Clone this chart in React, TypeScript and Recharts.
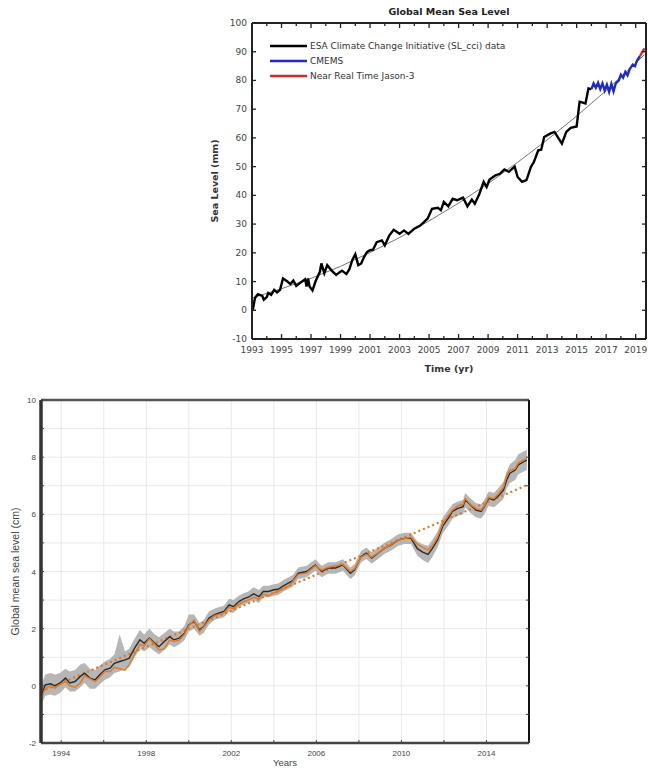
import React from 'react'
import { ComposedChart, Line, Area, XAxis, YAxis, CartesianGrid, Legend } from 'recharts'

// ---------- upper panel: Global Mean Sea Level (mm) ----------
const esaYears = [
  1993.05, 1993.2, 1993.4, 1993.7, 1993.8, 1994.0, 1994.1, 1994.3, 1994.5, 1994.7, 1994.9,
  1995.1, 1995.4, 1995.6, 1995.8, 1996.0, 1996.3, 1996.6, 1996.7, 1996.8, 1996.9,
  1997.1, 1997.3, 1997.6, 1997.7, 1997.9, 1998.1, 1998.4, 1998.7, 1998.9,
  1999.1, 1999.4, 1999.6, 1999.8, 2000.0, 2000.2, 2000.4, 2000.6, 2000.8,
  2001.0, 2001.2, 2001.45, 2001.8, 2002.0, 2002.3, 2002.6, 2003.0, 2003.3, 2003.6,
  2004.0, 2004.4, 2004.9, 2005.2, 2005.6, 2005.8, 2006.0, 2006.3, 2006.6, 2006.9,
  2007.3, 2007.6, 2007.9, 2008.1, 2008.4, 2008.7, 2008.9, 2009.1, 2009.5, 2009.8,
  2010.1, 2010.4, 2010.8, 2011.0, 2011.3, 2011.6, 2011.9, 2012.1, 2012.4, 2012.6,
  2012.8, 2013.2, 2013.5, 2014.0, 2014.3, 2014.6, 2015.0, 2015.2, 2015.6, 2015.8, 2016.0,
]
const esaLevel = [
  0, 4.3, 5.6, 5.0, 3.7, 4.6, 6.0, 5.4, 7.1, 6.2, 7.1,
  11.1, 10.0, 9.1, 10.3, 8.5, 9.7, 10.8, 8.3, 11.1, 8.3,
  6.9, 10.0, 13.4, 16.3, 12.9, 15.7, 13.8, 12.3, 13.1,
  13.8, 12.6, 14.3, 17.5, 19.5, 15.7, 16.3, 18.6, 20.3,
  20.9, 21.1, 23.7, 24.3, 22.6, 26.0, 28.0, 26.6, 27.8, 26.6,
  28.4, 29.5, 31.9, 35.3, 35.7, 34.8, 37.7, 36.2, 38.8, 38.3,
  39.2, 36.2, 38.5, 37.1, 40.4, 44.7, 42.9, 45.5, 47.0, 47.5,
  49.0, 48.2, 50.0, 46.4, 44.7, 45.3, 49.9, 51.6, 55.7, 55.9,
  60.3, 61.5, 62.1, 58.0, 62.1, 63.5, 64.0, 72.6, 72.0, 77.2, 77.0,
]
const cmemsYears = [
  2016.0, 2016.15, 2016.3, 2016.45, 2016.6, 2016.75, 2016.9, 2017.05, 2017.2, 2017.35,
  2017.5, 2017.65, 2017.85, 2018.0, 2018.15, 2018.3, 2018.45, 2018.6, 2018.8, 2018.95,
  2019.1, 2019.3,
]
const cmemsLevel = [
  77.0, 79.0, 77.5, 79.2, 77.0, 79.0, 76.5, 78.5, 76.0, 78.8,
  76.2, 79.0, 80.0, 82.0, 81.0, 83.0, 81.8, 84.0, 85.5, 85.0,
  87.0, 88.5,
]
const jasonYears = [2019.3, 2019.45, 2019.6]
const jasonLevel = [88.5, 90.0, 91.2]
const fitYears = [1993, 1995, 1997, 1999, 2001, 2003, 2005, 2007, 2009, 2011, 2013, 2015, 2017, 2019, 2019.6]
const fitLevel = [4.3, 7.5, 11.1, 15.3, 20.1, 25.3, 31.1, 37.3, 44.1, 51.5, 59.3, 67.6, 76.5, 86.0, 89.0]
const upperYTicks = [-10, 0, 10, 20, 30, 40, 50, 60, 70, 80, 90, 100]
const upperXTicks = [
  1993, 1994, 1995, 1996, 1997, 1998, 1999, 2000, 2001, 2002, 2003, 2004, 2005, 2006,
  2007, 2008, 2009, 2010, 2011, 2012, 2013, 2014, 2015, 2016, 2017, 2018, 2019,
]
const upperSeriesNames = ['ESA Climate Change Initiative (SL_cci) data', 'CMEMS', 'Near Real Time Jason-3']

// ---------- lower panel: Global mean sea level (cm) ----------
const gmslYears = [
  1993.1, 1993.25, 1993.5, 1993.7, 1993.95, 1994.2, 1994.4, 1994.65, 1994.9, 1995.1,
  1995.35, 1995.6, 1995.8, 1996.05, 1996.3, 1996.5, 1996.75, 1997.0, 1997.2, 1997.45,
  1997.7, 1997.9, 1998.15, 1998.4, 1998.6, 1998.85, 1999.1, 1999.3, 1999.55, 1999.8,
  2000.0, 2000.25, 2000.5, 2000.7, 2000.95, 2001.2, 2001.4, 2001.65, 2001.9, 2002.1,
  2002.35, 2002.6, 2002.8, 2003.05, 2003.3, 2003.5, 2003.75, 2004.0, 2004.2, 2004.45,
  2004.7, 2004.9, 2005.15, 2005.55, 2005.95, 2006.25, 2006.55, 2006.9, 2007.25, 2007.6,
  2007.8, 2008.1, 2008.35, 2008.6, 2008.9, 2009.2, 2009.5, 2009.85, 2010.15, 2010.45,
  2010.75, 2011.0, 2011.25, 2011.45, 2011.7, 2011.95, 2012.2, 2012.4, 2012.65, 2012.9,
  2013.0, 2013.25, 2013.5, 2013.75, 2013.9, 2014.1, 2014.35, 2014.6, 2014.8, 2014.95,
  2015.1, 2015.35, 2015.5, 2015.75, 2015.9,
]
const gmslMean = [
  -0.26, 0.03, 0.07, 0.0, 0.1, 0.27, 0.1, 0.15, 0.33, 0.44,
  0.27, 0.21, 0.38, 0.56, 0.62, 0.79, 0.85, 0.91, 0.97, 1.32,
  1.61, 1.49, 1.67, 1.49, 1.37, 1.55, 1.72, 1.61, 1.67, 1.84,
  2.13, 2.25, 1.96, 2.07, 2.37, 2.48, 2.54, 2.6, 2.83, 2.77,
  2.95, 3.05, 3.1, 3.22, 3.12, 3.3, 3.3, 3.36, 3.38, 3.5,
  3.6, 3.68, 3.94, 4.0, 4.23, 4.0, 4.12, 4.12, 4.23, 3.94,
  4.06, 4.52, 4.64, 4.47, 4.64, 4.81, 4.93, 5.1, 5.16, 5.16,
  4.8, 4.68, 4.6, 4.8, 5.1, 5.6, 5.86, 6.1, 6.21, 6.27,
  6.5, 6.33, 6.15, 6.1, 6.27, 6.56, 6.5, 6.68, 6.85, 7.2,
  7.44, 7.55, 7.73, 7.84, 7.9,
]
const gmslOrange = [
  -0.35, -0.1, 0.0, -0.08, 0.05, 0.15, 0.0, -0.05, 0.1, 0.35,
  0.25, 0.15, 0.3, 0.5, 0.5, 0.65, 0.6, 0.55, 0.75, 1.1,
  1.45, 1.4, 1.65, 1.45, 1.25, 1.3, 1.6, 1.55, 1.6, 1.8,
  2.1, 2.3, 1.9, 2.05, 2.3, 2.45, 2.5, 2.55, 2.75, 2.7,
  2.85, 2.95, 3.0, 3.1, 3.05, 3.2, 3.15, 3.25, 3.3, 3.4,
  3.5, 3.65, 3.9, 3.95, 4.2, 4.05, 4.15, 4.2, 4.25, 4.0,
  4.1, 4.5, 4.6, 4.5, 4.65, 4.8, 4.95, 5.1, 5.15, 5.2,
  4.95, 4.85, 4.75, 4.9, 5.2, 5.7, 5.95, 6.15, 6.3, 6.35,
  6.55, 6.35, 6.2, 6.15, 6.3, 6.6, 6.55, 6.75, 6.95, 7.35,
  7.55, 7.6, 7.8, 7.9, 7.95,
]
const gmslLow = [
  -0.6, -0.35, -0.3, -0.35, -0.25, -0.05, -0.2, -0.2, -0.05, 0.1,
  -0.1, -0.1, 0.05, 0.2, 0.3, 0.45, 0.5, 0.6, 0.65, 1.0,
  1.3, 1.2, 1.35, 1.2, 1.1, 1.25, 1.45, 1.35, 1.45, 1.6,
  1.9, 2.0, 1.75, 1.85, 2.15, 2.3, 2.35, 2.4, 2.6, 2.55,
  2.75, 2.85, 2.9, 3.0, 2.9, 3.1, 3.1, 3.15, 3.18, 3.3,
  3.4, 3.48, 3.74, 3.8, 4.03, 3.8, 3.92, 3.92, 4.03, 3.74,
  3.86, 4.32, 4.44, 4.27, 4.44, 4.61, 4.73, 4.9, 4.96, 4.96,
  4.55, 4.4, 4.3, 4.5, 4.85, 5.35, 5.6, 5.85, 5.95, 6.0,
  6.25, 6.05, 5.9, 5.85, 6.0, 6.3, 6.25, 6.4, 6.55, 6.9,
  7.1, 7.2, 7.4, 7.5, 7.55,
]
const gmslHigh = [
  0.1, 0.4, 0.45, 0.4, 0.45, 0.6, 0.5, 0.55, 0.75, 0.8,
  0.6, 0.55, 0.7, 0.85, 0.95, 1.1, 1.8, 1.2, 1.3, 1.65,
  1.95, 1.8, 2.0, 1.8, 1.7, 1.85, 2.0, 1.9, 1.9, 2.1,
  2.5, 2.5, 2.2, 2.3, 2.6, 2.7, 2.75, 2.8, 3.05, 3.0,
  3.15, 3.25, 3.3, 3.45, 3.35, 3.5, 3.5, 3.55, 3.58, 3.7,
  3.8, 3.88, 4.14, 4.2, 4.43, 4.2, 4.32, 4.32, 4.43, 4.14,
  4.26, 4.72, 4.84, 4.67, 4.84, 5.01, 5.13, 5.3, 5.36, 5.36,
  5.05, 4.95, 4.9, 5.1, 5.4, 5.9, 6.15, 6.35, 6.45, 6.5,
  6.75, 6.55, 6.4, 6.35, 6.5, 6.8, 6.75, 6.95, 7.15, 7.5,
  7.75, 7.9, 8.1, 8.2, 8.25,
]
const gmslFitYears = [1993.05, 2016]
const gmslFit = [-0.2, 7.05]
const lowerYTicks = [-2, -1, 0, 1, 2, 3, 4, 5, 6, 7, 8, 9, 10]
const lowerXTicks = [1994, 1996, 1998, 2000, 2002, 2004, 2006, 2008, 2010, 2012, 2014, 2016]
const lowerXLabels = [1994, 1998, 2002, 2006, 2010, 2014]

const zip = (xs: number[], ys: number[]) => xs.map((t, i) => ({ t, v: ys[i] }))
const esaData = zip(esaYears, esaLevel)
const cmemsData = zip(cmemsYears, cmemsLevel)
const jasonData = zip(jasonYears, jasonLevel)
const fitData = zip(fitYears, fitLevel)
const gmslData = gmslYears.map((t, i) => ({
  t,
  mean: gmslMean[i],
  alt: gmslOrange[i],
  band: [gmslLow[i], gmslHigh[i]],
}))
const gmslFitData = zip(gmslFitYears, gmslFit)

const UPPER_FONT = "'DejaVu Sans', sans-serif"
const LOWER_FONT = "'Liberation Sans Narrow', 'Liberation Sans', sans-serif"

// upper panel ticks: all point inward, labels on odd years only
function UpperBottomTick(props: any) {
  const { x, y, payload } = props
  const yr = payload.value
  const axisY = y - 12
  const major = yr % 2 === 1
  return (
    <g>
      <line x1={x} x2={x} y1={axisY} y2={axisY - (major ? 5 : 3)} stroke="#222" strokeWidth={1.3} />
      {major && (
        <text x={x} y={axisY + 14} textAnchor="middle" fontSize={9} fill="#444" fontFamily={UPPER_FONT}>
          {yr}
        </text>
      )}
    </g>
  )
}

function UpperTopTick(props: any) {
  const { x, y, payload } = props
  const major = payload.value % 2 === 1
  return <line x1={x} x2={x} y1={y} y2={y + (major ? 5 : 3)} stroke="#222" strokeWidth={1.3} />
}

function UpperLeftTick(props: any) {
  const { x, y, payload } = props
  const axisX = x + 6
  return (
    <g>
      <line x1={axisX} x2={axisX + 4} y1={y} y2={y} stroke="#222" strokeWidth={1.3} />
      <text x={axisX - 5} y={y + 3} textAnchor="end" fontSize={9} fill="#444" fontFamily={UPPER_FONT}>
        {payload.value}
      </text>
    </g>
  )
}

function UpperRightTick(props: any) {
  const { x, y } = props
  return <line x1={x} x2={x - 4} y1={y} y2={y} stroke="#222" strokeWidth={1.3} />
}

function UpperLegend(props: any) {
  const items = (props.payload || [])
    .filter((p: any) => upperSeriesNames.includes(p.value))
    .sort((a: any, b: any) => upperSeriesNames.indexOf(a.value) - upperSeriesNames.indexOf(b.value))
  return (
    <div style={{ fontFamily: UPPER_FONT, fontSize: 9, color: '#333' }}>
      {items.map((p: any) => (
        <div key={p.value} style={{ display: 'flex', alignItems: 'center', height: 15 }}>
          <svg width={40} height={6}>
            <line x1={0} x2={37} y1={3} y2={3} stroke={p.color} strokeWidth={2.4} />
          </svg>
          <span>{p.value}</span>
        </div>
      ))}
    </div>
  )
}

function LowerLeftTick(props: any) {
  const { x, y, payload } = props
  const axisX = x + 6
  const show = payload.value % 2 === 0
  return (
    <g>
      <line x1={axisX} x2={axisX + 3} y1={y} y2={y} stroke="#444" strokeWidth={1} />
      {show && (
        <text x={axisX - 5} y={y + 3} textAnchor="end" fontSize={8} fill="#444" fontFamily={LOWER_FONT}>
          {payload.value}
        </text>
      )}
    </g>
  )
}

function LowerBottomTick(props: any) {
  const { x, y, payload } = props
  const axisY = y - 8
  const show = lowerXLabels.includes(payload.value)
  return (
    <g>
      <line x1={x} x2={x} y1={axisY} y2={axisY - 3} stroke="#444" strokeWidth={1} />
      {show && (
        <text x={x} y={axisY + 13} textAnchor="middle" fontSize={8} fill="#444" fontFamily={LOWER_FONT}>
          {payload.value}
        </text>
      )}
    </g>
  )
}

function LowerRightTick(props: any) {
  const { x, y } = props
  return <line x1={x} x2={x - 3} y1={y} y2={y} stroke="#444" strokeWidth={1} />
}

function UpperChart() {
  return (
    <ComposedChart width={448} height={380} margin={{ top: 22, right: 1, bottom: 0, left: 0 }}>
      <XAxis
        dataKey="t"
        type="number"
        domain={[1993, 2019.7]}
        ticks={upperXTicks}
        interval={0}
        allowDataOverflow
        height={41}
        tickSize={0}
        tickMargin={12}
        tickLine={false}
        tick={UpperBottomTick}
        axisLine={{ stroke: '#222', strokeWidth: 2 }}
        label={{ value: 'Time (yr)', position: 'insideBottom', offset: 8, fontSize: 9.5, fontWeight: 'bold', fill: '#333', fontFamily: UPPER_FONT }}
      />
      <XAxis
        xAxisId="top"
        orientation="top"
        dataKey="t"
        type="number"
        domain={[1993, 2019.7]}
        ticks={upperXTicks}
        interval={0}
        allowDataOverflow
        height={1}
        tickSize={0}
        tickMargin={0}
        tickLine={false}
        tick={UpperTopTick}
        axisLine={{ stroke: '#222', strokeWidth: 2 }}
      />
      <YAxis
        type="number"
        domain={[-10, 100]}
        ticks={upperYTicks}
        interval={0}
        allowDataOverflow
        width={52}
        tickSize={0}
        tickMargin={6}
        tickLine={false}
        tick={UpperLeftTick}
        axisLine={{ stroke: '#222', strokeWidth: 2 }}
        label={{ value: 'Sea Level (mm)', angle: -90, position: 'insideLeft', offset: 15, fontSize: 9.5, fontWeight: 'bold', fill: '#333', fontFamily: UPPER_FONT, style: { textAnchor: 'middle' } }}
      />
      <YAxis
        yAxisId="right"
        orientation="right"
        type="number"
        domain={[-10, 100]}
        ticks={upperYTicks}
        interval={0}
        allowDataOverflow
        width={1}
        tickSize={0}
        tickMargin={0}
        tickLine={false}
        tick={UpperRightTick}
        axisLine={{ stroke: '#222', strokeWidth: 2 }}
      />
      <Legend
        layout="vertical"
        align="center"
        verticalAlign="middle"
        content={UpperLegend}
        wrapperStyle={{ left: 70, top: 38, width: 'auto' }}
      />
      <Line data={fitData} dataKey="v" name="fit" legendType="none" stroke="#666" strokeWidth={0.9} dot={false} activeDot={false} isAnimationActive={false} />
      <Line data={esaData} dataKey="v" name="ESA Climate Change Initiative (SL_cci) data" stroke="#000" strokeWidth={2.4} dot={false} activeDot={false} isAnimationActive={false} />
      <Line data={cmemsData} dataKey="v" name="CMEMS" stroke="#1f2cc4" strokeWidth={2.4} dot={false} activeDot={false} isAnimationActive={false} />
      <Line data={jasonData} dataKey="v" name="Near Real Time Jason-3" stroke="#d8262a" strokeWidth={2.4} dot={false} activeDot={false} isAnimationActive={false} />
    </ComposedChart>
  )
}

function LowerChart() {
  return (
    <ComposedChart width={540} height={384} data={gmslData} margin={{ top: 14, right: 10, bottom: 0, left: 0 }}>
      <CartesianGrid stroke="#e9e9e9" strokeWidth={1} />
      <XAxis
        dataKey="t"
        type="number"
        domain={[1993.05, 2016]}
        ticks={lowerXTicks}
        interval={0}
        allowDataOverflow
        height={26}
        tickSize={0}
        tickMargin={8}
        tickLine={false}
        tick={LowerBottomTick}
        axisLine={{ stroke: '#444', strokeWidth: 2.5 }}
        label={{ value: 'Years', position: 'insideBottom', offset: 3, fontSize: 9.5, fill: '#444', fontFamily: "'Liberation Sans', sans-serif" }}
      />
      <XAxis
        xAxisId="top"
        orientation="top"
        dataKey="t"
        type="number"
        domain={[1993.05, 2016]}
        ticks={lowerXTicks}
        allowDataOverflow
        height={1}
        tick={false}
        tickLine={false}
        axisLine={{ stroke: '#555', strokeWidth: 2.5 }}
      />
      <YAxis
        type="number"
        domain={[-2, 10]}
        ticks={lowerYTicks}
        interval={0}
        allowDataOverflow
        width={41}
        tickSize={0}
        tickMargin={6}
        tickLine={false}
        tick={LowerLeftTick}
        axisLine={{ stroke: '#333', strokeWidth: 3.5 }}
        label={{ value: 'Global mean sea level (cm)', angle: -90, position: 'insideLeft', offset: 15, fontSize: 10.5, fill: '#444', fontFamily: "'Liberation Sans', sans-serif", style: { textAnchor: 'middle' } }}
      />
      <YAxis
        yAxisId="right"
        orientation="right"
        type="number"
        domain={[-2, 10]}
        ticks={lowerYTicks}
        interval={0}
        allowDataOverflow
        width={1}
        tickSize={0}
        tickMargin={0}
        tickLine={false}
        tick={LowerRightTick}
        axisLine={{ stroke: '#111', strokeWidth: 2 }}
      />
      <Area dataKey="band" type="linear" stroke="none" fill="#a9a9a9" fillOpacity={0.85} dot={false} activeDot={false} isAnimationActive={false} />
      <Line data={gmslFitData} dataKey="v" stroke="#e0782a" strokeWidth={2.2} strokeDasharray="2 3" dot={false} activeDot={false} isAnimationActive={false} />
      <Line dataKey="mean" type="linear" stroke="#2b2b2b" strokeWidth={1.4} dot={false} activeDot={false} isAnimationActive={false} />
      <Line dataKey="alt" type="linear" stroke="#e57a22" strokeWidth={1.5} dot={false} activeDot={false} isAnimationActive={false} />
    </ComposedChart>
  )
}

export default function App() {
  return (
    <div style={{ position: 'fixed', left: 0, top: 0, width: 648, height: 769, overflow: 'hidden', background: '#fff' }}>
      <div style={{ position: 'absolute', left: 200, top: 0 }}>
        <UpperChart />
      </div>
      <div
        style={{
          position: 'absolute',
          left: 252,
          width: 394,
          top: 6,
          textAlign: 'center',
          fontFamily: UPPER_FONT,
          fontWeight: 'bold',
          fontSize: 9.5,
          color: '#222',
        }}
      >
        Global Mean Sea Level
      </div>
      <div style={{ position: 'absolute', left: 0, top: 385 }}>
        <LowerChart />
      </div>
    </div>
  )
}
